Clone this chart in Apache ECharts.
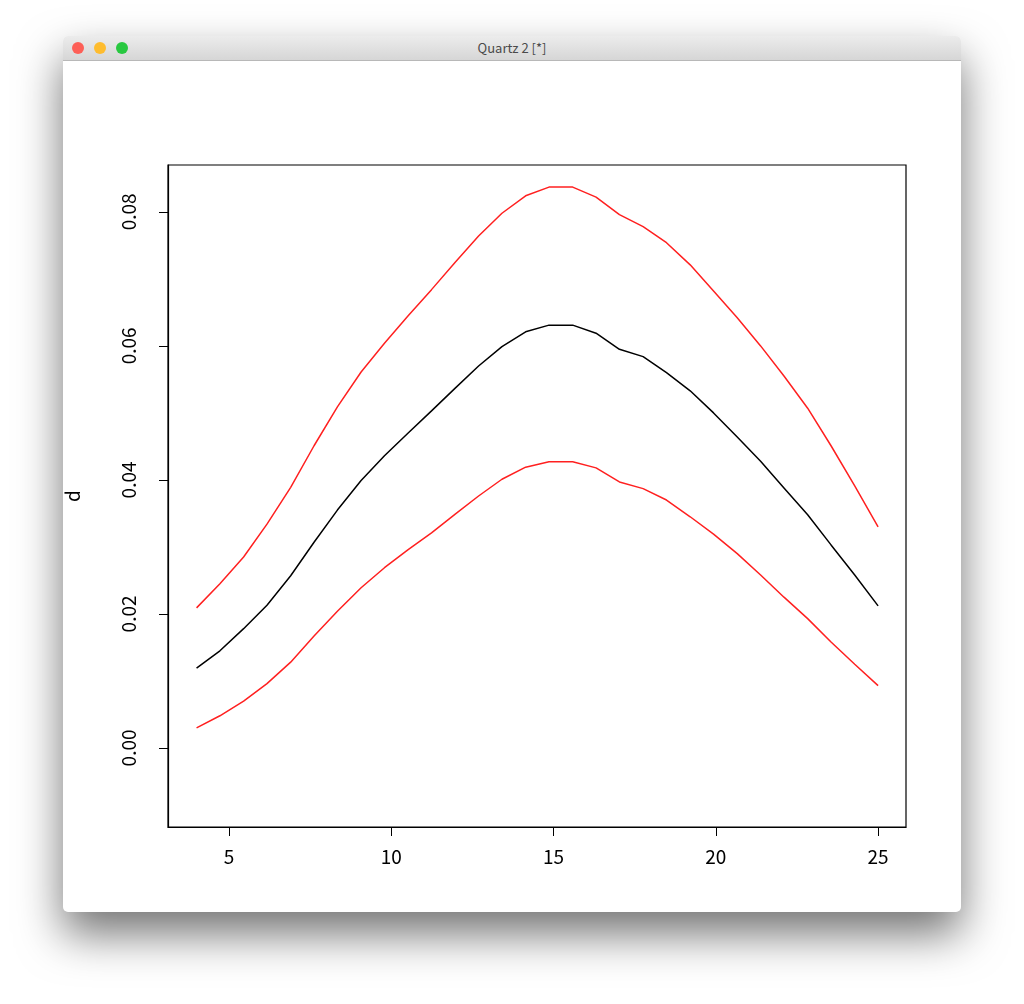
<!DOCTYPE html>
<html>
<head>
<meta charset="utf-8">
<script src="https://cdn.jsdelivr.net/npm/echarts@6/dist/echarts.min.js"></script>
<style>
  body { margin: 0; width: 1024px; height: 1004px; background: #fff; position: relative; overflow: hidden; font-family: "Noto Sans CJK JP", "Noto Sans", sans-serif; }
  .win { position: absolute; left: 63px; top: 36px; width: 898px; height: 876px; background: #fff; border-radius: 5px;
         box-shadow: 0 22px 45px rgba(0,0,0,0.55); overflow: hidden; }
  .bar { height: 24px; background: linear-gradient(#ececec, #d6d6d6); border-bottom: 1px solid #b8b8b8; text-align: center;
         font-size: 13px; line-height: 24px; color: #4a4a4a; position: relative; }
  .dot { position: absolute; top: 6px; width: 12px; height: 12px; border-radius: 50%; }
  #chart { position: absolute; left: 0; top: 0; width: 1024px; height: 1004px; }
</style>
</head>
<body>
<div class="win">
  <div class="bar">
    <span class="dot" style="left:9px;background:#fd5f57"></span>
    <span class="dot" style="left:31px;background:#febc2e"></span>
    <span class="dot" style="left:53px;background:#28c840"></span>
    Quartz 2 [*]
  </div>
</div>
<div id="chart"></div>
<script>
// x grid (30 points from 4 to 25)
const xs = [4, 4.72, 5.45, 6.17, 6.90, 7.62, 8.34, 9.07, 9.79, 10.52, 11.24, 11.97, 12.69, 13.41, 14.14,
            14.86, 15.59, 16.31, 17.03, 17.76, 18.48, 19.21, 19.93, 20.66, 21.38, 22.10, 22.83, 23.55, 24.28, 25];
const mid = [0.0119, 0.0145, 0.0178, 0.0213, 0.0257, 0.0307, 0.0355, 0.0399, 0.0436, 0.0470, 0.0503, 0.0537, 0.0570, 0.0599, 0.0621,
             0.0631, 0.0631, 0.0619, 0.0595, 0.0584, 0.0560, 0.0533, 0.0500, 0.0464, 0.0428, 0.0388, 0.0348, 0.0303, 0.0258, 0.0212];
const upper = [0.0209, 0.0245, 0.0285, 0.0334, 0.0389, 0.0451, 0.0509, 0.0561, 0.0604, 0.0645, 0.0684, 0.0725, 0.0764, 0.0798, 0.0824,
               0.0837, 0.0837, 0.0822, 0.0796, 0.0778, 0.0754, 0.0721, 0.0682, 0.0642, 0.0600, 0.0555, 0.0507, 0.0451, 0.0391, 0.0330];
const lower = [0.0030, 0.0048, 0.0070, 0.0096, 0.0128, 0.0167, 0.0204, 0.0239, 0.0269, 0.0296, 0.0321, 0.0349, 0.0376, 0.0401, 0.0419,
               0.0427, 0.0427, 0.0418, 0.0397, 0.0387, 0.0370, 0.0345, 0.0319, 0.0290, 0.0258, 0.0225, 0.0193, 0.0158, 0.0125, 0.0093];
const xTicks = [5, 10, 15, 20, 25];
const yTicks = [0, 0.02, 0.04, 0.06, 0.08];

const chart = echarts.init(document.getElementById('chart'));
const pair = arr => xs.map((x, i) => [x, arr[i]]);
const line = (arr, color) => ({
  type: 'line', data: pair(arr), showSymbol: false, silent: true,
  lineStyle: { color: color, width: 1.5 }
});
const font = '"Noto Sans CJK JP", "Noto Sans", sans-serif';

chart.setOption({
  animation: false,
  grid: { left: 168, top: 165, width: 738, height: 662, show: true, borderColor: '#000', borderWidth: 1.2, backgroundColor: 'transparent' },
  xAxis: {
    type: 'value', min: 3.12, max: 25.86,
    splitLine: { show: false }, axisLine: { show: true, onZero: false, lineStyle: { color: '#000', width: 1.2 } },
    axisTick: { show: true, length: 9, customValues: xTicks, lineStyle: { color: '#000' } },
    axisLabel: { customValues: xTicks, color: '#000', fontSize: 19, margin: 20, fontFamily: font }
  },
  yAxis: {
    type: 'value', min: -0.0118, max: 0.087, name: 'd', nameLocation: 'middle', nameGap: 86,
    nameTextStyle: { color: '#000', fontSize: 19, fontFamily: font }, nameRotate: 90,
    splitLine: { show: false }, axisLine: { show: true, onZero: false, lineStyle: { color: '#000', width: 1.2 } },
    axisTick: { show: true, length: 9, customValues: yTicks, lineStyle: { color: '#000' } },
    axisLabel: { customValues: yTicks, rotate: 90, color: '#000', fontSize: 19, margin: 30, fontFamily: font,
                 formatter: v => v.toFixed(2) }
  },
  series: [line(upper, '#ff2020'), line(mid, '#000'), line(lower, '#ff2020')]
});
</script>
</body>
</html>
